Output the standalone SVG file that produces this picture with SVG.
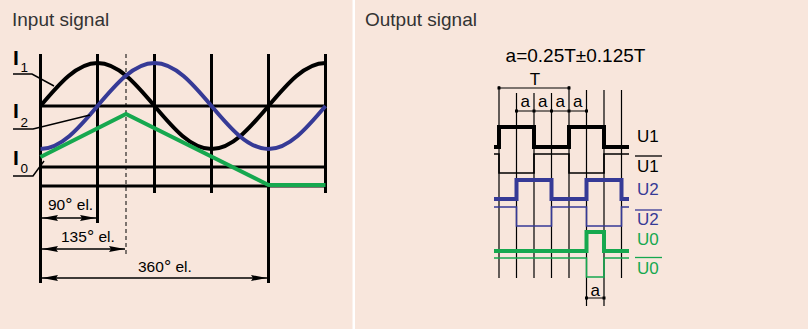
<svg xmlns="http://www.w3.org/2000/svg" width="808" height="329" viewBox="0 0 808 329">
<style>
text{font-family:"Liberation Sans",Arial,sans-serif;}
.title{font-size:19px;fill:#333;}
.grid{stroke:#000;stroke-width:3;fill:none;}
.thin{stroke:#000;stroke-width:1.5;fill:none;}
.vl{stroke:#000;stroke-width:1.2;fill:none;}
.dim{stroke:#000;stroke-width:1.4;fill:none;}
.lbl{font-size:15.5px;fill:#000;}
.sig{fill:none;stroke-linejoin:miter;stroke-linecap:butt;}
.k{stroke:#000;}
.b{stroke:#363a96;}
.g{stroke:#16a84f;}
.th{stroke-width:4;}
.tn{stroke-width:1.6;}
.ul{font-size:17px;}
.big{font-size:21px;font-weight:bold;}
.sub{font-size:13.5px;}
</style>
<defs>
<marker id="arr" viewBox="0 0 16 6" refX="16" refY="3" markerWidth="16" markerHeight="6" orient="auto-start-reverse" markerUnits="userSpaceOnUse">
<path d="M0,0 L16,3 L0,6 L2,3 Z" fill="#000"/>
</marker>
</defs>
<rect x="0" y="0" width="808" height="329" fill="#ffffff"/>
<rect x="0" y="0" width="352.5" height="329" fill="#f8e6dc"/>
<rect x="355" y="0" width="453" height="329" fill="#f8e6dc"/>
<text class="title" x="12" y="26">Input signal</text>
<text class="title" x="365" y="26">Output signal</text>

<g id="input-grid">
<path class="grid" d="M40.5,54 V283 M97.5,54 V223 M154.5,54 V193 M211.5,54 V193 M268.5,54 V283 M325.5,54 V193"/>
<path class="grid" d="M40.5,106 H325.5 M40.5,167 H325.5 M40.5,186 H325.5"/>
<path d="M126,54 V254" stroke="#000" stroke-width="1" stroke-dasharray="4,3" fill="none"/>
</g>

<g id="I1">
<path d="M40.5,106 C59.56,83.42 77.09,63 97.5,63 C117.91,63 135.44,83.42 154.5,106 C173.56,128.58 191.09,149 211.5,149 C231.91,149 249.44,128.58 268.5,106 C287.56,83.42 305.09,63 325.5,63" fill="none" stroke="#000" stroke-width="4"/>
<path class="thin" d="M13,74 H32 L54,86"/>
<text class="big" x="13" y="65">I</text><text class="sub" x="20.5" y="71.5">1</text>
</g>
<g id="I2">
<path d="M40.5,149 C60.91,149 78.44,128.58 97.5,106 C116.56,83.42 134.09,63 154.5,63 C174.91,63 192.44,83.42 211.5,106 C230.56,128.58 248.09,149 268.5,149 C288.91,149 306.44,128.58 325.5,106" fill="none" stroke="#363a96" stroke-width="4"/>
<path class="thin" d="M13,129 H33 L90,115"/>
<text class="big" x="13" y="118">I</text><text class="sub" x="20.5" y="127">2</text>
</g>
<g id="I0">
<path d="M40.5,157 L126,114 L268.5,185 L325.5,185" fill="none" stroke="#16a84f" stroke-width="4"/>
<path class="thin" d="M13,176 H33 L44,161"/>
<text class="big" x="13" y="165">I</text><text class="sub" x="20.5" y="173">0</text>
</g>

<g id="dimensions-left">
<path class="dim" d="M42,218 H96" marker-start="url(#arr)" marker-end="url(#arr)"/>
<path class="dim" d="M42,249 H125" marker-start="url(#arr)" marker-end="url(#arr)"/>
<path class="dim" d="M42,278 H267" marker-start="url(#arr)" marker-end="url(#arr)"/>
<text class="lbl" x="48" y="210">90<tspan font-size="18" dy="1">°</tspan><tspan dy="-1"> el.</tspan></text>
<text class="lbl" x="61" y="242">135<tspan font-size="18" dy="1">°</tspan><tspan dy="-1"> el.</tspan></text>
<text class="lbl" x="138" y="272">360<tspan font-size="18" dy="1">°</tspan><tspan dy="-1"> el.</tspan></text>
</g>

<g id="output-header">
<text x="575.5" y="62" font-size="19" text-anchor="middle" fill="#000">a=0.25T±0.125T</text>
</g>

<g id="timing-grid">
<path class="vl" d="M499,86 V278 M516.5,93 V278 M534,93 V278 M551.5,93 V278 M569,86 V278 M586.5,90 V306 M604,90 V306 M621.5,90 V278"/>
<path class="vl" d="M499,88 H569 M516.5,111 H586.5 M586.5,298 H604"/>
<path fill="#000" d="M497.5,86.5h3v3h-3z M567.5,86.5h3v3h-3z M515,109.5h3v3h-3z M532.5,109.5h3v3h-3z M550,109.5h3v3h-3z M567.5,109.5h3v3h-3z M585,109.5h3v3h-3z M585,296.5h3v3h-3z M602.5,296.5h3v3h-3z"/>
<text x="535" y="85" font-size="17" text-anchor="middle">T</text>
<text x="525.2" y="107" font-size="17" text-anchor="middle">a</text>
<text x="542.7" y="107" font-size="17" text-anchor="middle">a</text>
<text x="560.2" y="107" font-size="17" text-anchor="middle">a</text>
<text x="577.7" y="107" font-size="17" text-anchor="middle">a</text>
<text x="595.2" y="296" font-size="17" text-anchor="middle">a</text>
</g>

<g id="U1">
<path class="sig k th" d="M494,147 H499 V127 H534 V147 H569 V127 H604 V147 H629"/>
<text class="ul" x="637" y="142" fill="#000">U1</text>
</g>
<g id="U1bar">
<path class="sig k tn" d="M494,154 H499 V173 H534 V154 H569 V173 H604 V154 H629"/>
<text class="ul" x="637" y="172" fill="#000">U1</text>
<path d="M635,156 H662" stroke="#000" stroke-width="1.3"/>
</g>
<g id="U2">
<path class="sig b th" d="M494,199 H516.5 V180 H551.5 V199 H586.5 V180 H621.5 V199 H629"/>
<text class="ul" x="637" y="195" fill="#363a96">U2</text>
</g>
<g id="U2bar">
<path class="sig b tn" d="M494,207 H516.5 V226 H551.5 V207 H586.5 V226 H621.5 V207 H629"/>
<text class="ul" x="637" y="225" fill="#363a96">U2</text>
<path d="M635,210 H662" stroke="#363a96" stroke-width="1.3"/>
</g>
<g id="U0">
<path class="sig g th" d="M494,251 H586.5 V232 H604 V251 H629"/>
<text class="ul" x="637" y="245" fill="#16a84f">U0</text>
</g>
<g id="U0bar">
<path class="sig g tn" d="M494,258 H586.5 V277 H604 V258 H629"/>
<text class="ul" x="637" y="274" fill="#16a84f">U0</text>
<path d="M635,257.5 H662" stroke="#16a84f" stroke-width="1.3"/>
</g>
</svg>
